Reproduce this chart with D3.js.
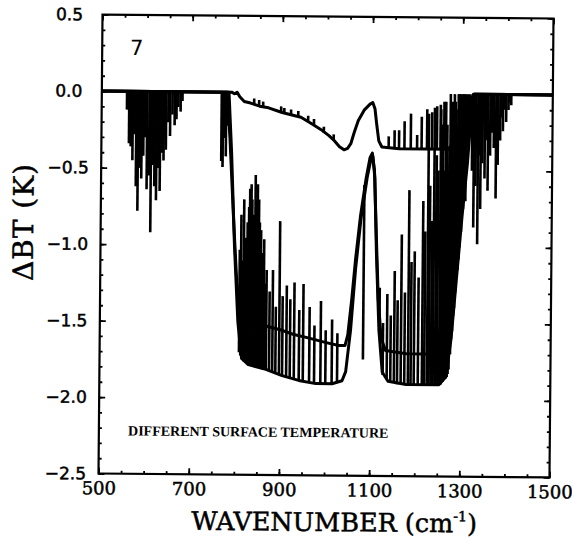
<!DOCTYPE html>
<html>
<head>
<meta charset="utf-8">
<script src="https://cdn.jsdelivr.net/npm/d3@7"></script>
<style>
  body { margin: 0; background: #fff; }
</style>
</head>
<body>
<svg id="chart" width="572" height="540"></svg>
<script>
// Brightness-temperature difference spectra (panel 7)

const xMajorTicks = [500, 700, 900, 1100, 1300, 1500];
const yMajorTicks = [0.5, 0.0, -0.5, -1.0, -1.5, -2.0, -2.5];

const panelLabel = "7";
const noteText = "DIFFERENT SURFACE TEMPERATURE";

// Envelopes, [wavenumber (cm-1), ΔBT (K)]
const curveSmall = [
  [500, 0], [788, 0], [794, -0.01], [800, 0.0], [806, -0.03], [816, -0.06], [830, -0.07],
  [850, -0.09], [870, -0.1], [900, -0.13], [942, -0.16], [965, -0.2], [987, -0.24],
  [1005, -0.28], [1016, -0.31], [1028, -0.35], [1038, -0.37], [1046, -0.36], [1053, -0.33],
  [1060, -0.26], [1069, -0.18], [1082, -0.11], [1095, -0.07], [1101, -0.06], [1106, -0.1],
  [1110, -0.2], [1115, -0.31], [1122, -0.35], [1160, -0.36], [1220, -0.36], [1268, -0.36],
  [1282, -0.32], [1294, -0.22], [1305, -0.12], [1316, -0.05], [1326, 0], [1500, 0]
];

const curveMid = [
  [500, 0], [778, 0], [785, -0.3], [794, -0.8], [803, -1.25], [812, -1.45], [825, -1.5],
  [860, -1.52], [900, -1.55], [930, -1.58], [960, -1.6], [1000, -1.63], [1030, -1.65],
  [1044, -1.65], [1050, -1.58], [1058, -1.35], [1066, -1.08], [1076, -0.8], [1088, -0.55],
  [1096, -0.42], [1101, -0.39], [1106, -0.5], [1111, -0.9], [1117, -1.35], [1124, -1.6],
  [1134, -1.68], [1180, -1.7], [1225, -1.7], [1242, -1.68], [1252, -1.6], [1263, -1.4],
  [1275, -1.1], [1286, -0.8], [1298, -0.5], [1309, -0.22], [1318, -0.06], [1326, 0], [1500, 0]
];

const curveLow = [
  [500, 0], [782, 0], [789, -0.4], [797, -1.0], [806, -1.5], [815, -1.74], [830, -1.78],
  [869, -1.81], [905, -1.85], [942, -1.88], [980, -1.9], [1016, -1.9], [1038, -1.88],
  [1046, -1.82], [1056, -1.55], [1066, -1.15], [1077, -0.82], [1090, -0.55], [1098, -0.43],
  [1102, -0.41], [1107, -0.55], [1112, -1.05], [1119, -1.55], [1127, -1.82], [1140, -1.88],
  [1180, -1.9], [1253, -1.9], [1268, -1.85], [1279, -1.6], [1290, -1.2], [1301, -0.8],
  [1312, -0.45], [1319, -0.15], [1324, 0], [1500, 0]
];

// Absorption lines dipping from zero, [wavenumber, ΔBT at line centre]
const zeroDips = [
  [556, -0.12], [561, -0.34], [565, -0.36], [569, -0.45], [573, -0.28], [577, -0.62],
  [581, -0.78], [585, -0.5], [589, -0.57], [593, -0.42], [597, -0.3], [601, -0.64],
  [606, -0.55], [610, -0.92], [614, -0.48], [618, -0.62], [622, -0.71], [626, -0.5],
  [630, -0.65], [634, -0.4], [638, -0.45], [643, -0.38], [648, -0.2], [652, -0.29],
  [657, -0.15], [662, -0.22], [666, -0.18], [670, -0.1], [675, -0.13], [679, -0.06],
  [766, -0.45], [769, -0.49], [772, -0.3], [776, -0.42], [779, -0.22],
  [1292, -0.3], [1296, -0.6], [1300, -0.2], [1304, -0.45], [1308, -0.7], [1312, -0.35],
  [1316, -0.25], [1322, -0.5], [1326, -0.87], [1330, -0.6], [1335, -0.98], [1338, -0.4],
  [1341, -0.75], [1345, -0.45], [1350, -0.55], [1353, -0.3], [1357, -0.63], [1362, -0.4],
  [1366, -0.25], [1370, -0.35], [1375, -0.68], [1379, -0.46], [1384, -0.3], [1387, -0.15],
  [1390, -0.24], [1394, -0.1], [1397, -0.18], [1402, -0.1], [1405, -0.05], [1408, -0.07]
];

// Lines standing out of the envelopes, [wavenumber, base ΔBT, tip ΔBT]
const riseLines = [
  [809, -1.7, -1.03], [812, -1.72, -0.8], [815, -1.74, -1.1], [818, -1.75, -0.7],
  [820, -1.76, -1.0], [823, -1.76, -0.95], [826, -1.77, -0.85], [829, -1.77, -0.75],
  [831, -1.78, -0.63], [834, -1.78, -0.6], [836, -1.78, -0.7], [839, -1.79, -0.8],
  [843, -1.79, -0.54], [846, -1.8, -0.7], [848, -1.8, -0.6], [851, -1.8, -0.7],
  [853, -1.8, -0.85], [856, -1.8, -0.9], [858, -1.8, -1.05], [861, -1.81, -1.1],
  [863, -1.81, -0.96], [866, -1.81, -1.25], [869, -1.81, -1.16],
  [876, -1.82, -1.3], [883, -1.83, -1.16], [890, -1.84, -1.4], [898, -1.84, -0.84],
  [905, -1.85, -1.33], [914, -1.86, -1.26], [922, -1.87, -1.35], [931, -1.87, -1.24],
  [942, -1.88, -1.42], [951, -1.89, -1.25], [965, -1.89, -1.4], [976, -1.9, -1.52],
  [990, -1.9, -1.36], [1001, -1.9, -1.55], [1015, -1.9, -1.48], [1027, -1.89, -1.57],
  [1084, -1.74, -0.6],
  [1120, -1.6, -1.27], [1128, -1.84, -1.5], [1137, -1.87, -1.31], [1145, -1.88, -1.45],
  [1153, -1.89, -1.16], [1160, -1.9, -1.35], [1168, -1.9, -0.92], [1176, -1.9, -1.3],
  [1184, -1.9, -0.63], [1190, -1.9, -1.1], [1197, -1.9, -1.03], [1206, -1.9, -1.2],
  [1215, -1.9, -0.7], [1220, -1.9, -0.9], [1226, -1.9, -0.13], [1230, -1.9, -0.6],
  [1235, -1.9, -0.83], [1239, -1.9, -0.09], [1244, -1.9, -0.4], [1248, -1.9, -0.5],
  [1253, -1.9, -0.1], [1256, -1.9, -0.2], [1258, -1.88, -0.3], [1261, -1.88, -0.5],
  [1264, -1.86, -0.05], [1267, -1.86, -0.2], [1270, -1.85, -0.6], [1272, -1.83, -0.35],
  [1274, -1.8, 0], [1277, -1.7, -0.1], [1279, -1.6, -0.05], [1281, -1.55, -0.3],
  [1283, -1.45, 0], [1285, -1.4, -0.05], [1287, -1.3, -0.1], [1290, -1.2, -0.2],
  [1292, -1.15, 0], [1294, -1.08, 0], [1296, -1.0, -0.05], [1299, -0.9, -0.1],
  [1303, -0.75, 0], [1307, -0.6, -0.05],
  [1137, -0.35, -0.28], [1150, -0.36, -0.24], [1160, -0.36, -0.24], [1172, -0.36, -0.18],
  [1186, -0.36, -0.13], [1200, -0.36, -0.27], [1210, -0.36, -0.15], [1222, -0.36, -0.1],
  [1233, -0.36, -0.12], [1244, -0.36, -0.08], [1252, -0.36, -0.07], [1260, -0.36, -0.05],
  [838, -0.08, -0.04], [849, -0.09, -0.05], [858, -0.09, -0.06], [898, -0.13, -0.09],
  [905, -0.13, -0.1], [920, -0.15, -0.11], [936, -0.16, -0.12], [958, -0.19, -0.15],
  [971, -0.21, -0.17], [993, -0.26, -0.22], [1015, -0.31, -0.27]
];

// ---- layout ----
const plot = { left: 100.5, top: 16.5, right: 551.5, bottom: 475.5 };
const x = d3.scaleLinear().domain([500, 1500]).range([plot.left, plot.right]);
const y = d3.scaleLinear().domain([-2.5, 0.5]).range([plot.bottom, plot.top]);

const svg = d3.select("#chart");
svg.append("rect").attr("width", 572).attr("height", 540).attr("fill", "#fff");

// the printed figure sits very slightly askew on the page
const root = svg.append("g").attr("transform", "rotate(0.5,326,246)");

const xMinor = d3.range(500, 1501, 50);
const yMinor = d3.range(-25, 6).map(d => d / 10);

function styleAxis(g) {
  g.select(".domain").remove();
  g.selectAll(".tick line").attr("stroke", "#000").attr("stroke-width", 1.8);
  g.selectAll(".tick text").attr("fill", "#000");
}

// minor ticks, all four sides, pointing inward
root.append("g").attr("transform", `translate(0,${plot.bottom})`)
  .call(d3.axisBottom(x).tickValues(xMinor).tickSize(-3).tickFormat("")).call(styleAxis);
root.append("g").attr("transform", `translate(0,${plot.top})`)
  .call(d3.axisTop(x).tickValues(xMinor).tickSize(-3).tickFormat("")).call(styleAxis);
root.append("g").attr("transform", `translate(${plot.left},0)`)
  .call(d3.axisLeft(y).tickValues(yMinor).tickSize(-3).tickFormat("")).call(styleAxis);
root.append("g").attr("transform", `translate(${plot.right},0)`)
  .call(d3.axisRight(y).tickValues(yMinor).tickSize(-3).tickFormat("")).call(styleAxis);

// major ticks with labels
const gx = root.append("g").attr("transform", `translate(0,${plot.bottom})`)
  .call(d3.axisBottom(x).tickValues(xMajorTicks).tickSize(-6).tickPadding(8).tickFormat(d3.format("d")))
  .call(styleAxis);
gx.attr("font-family", "'DejaVu Serif', serif").attr("font-size", 18);
gx.selectAll(".tick text").attr("stroke", "#000").attr("stroke-width", 0.5);

root.append("g").attr("transform", `translate(0,${plot.top})`)
  .call(d3.axisTop(x).tickValues(xMajorTicks).tickSize(-6).tickFormat("")).call(styleAxis);

const gy = root.append("g").attr("transform", `translate(${plot.left},0)`)
  .call(d3.axisLeft(y).tickValues(yMajorTicks).tickSize(-6).tickFormat(d3.format(".1f")))
  .call(styleAxis);
gy.attr("font-family", "'DejaVu Sans', sans-serif").attr("font-size", 17);
gy.selectAll(".tick text").attr("text-anchor", "middle").attr("x", -33)
  .attr("stroke", "#000").attr("stroke-width", 0.5);

root.append("g").attr("transform", `translate(${plot.right},0)`)
  .call(d3.axisRight(y).tickValues(yMajorTicks).tickSize(-6).tickFormat("")).call(styleAxis);

// frame
root.append("rect")
  .attr("x", plot.left).attr("y", plot.top)
  .attr("width", plot.right - plot.left).attr("height", plot.bottom - plot.top)
  .attr("fill", "none").attr("stroke", "#000").attr("stroke-width", 2.2);

// ---- spectra ----
const line = d3.line().x(d => x(d[0])).y(d => y(d[1]));

root.append("g").attr("stroke", "#000").attr("stroke-width", 2.6)
  .selectAll("line").data(zeroDips).join("line")
  .attr("x1", d => x(d[0])).attr("x2", d => x(d[0]))
  .attr("y1", y(0)).attr("y2", d => y(d[1]));

root.append("g").attr("stroke", "#000").attr("stroke-width", 2.6)
  .selectAll("line").data(riseLines).join("line")
  .attr("x1", d => x(d[0])).attr("x2", d => x(d[0]))
  .attr("y1", d => y(d[1])).attr("y2", d => y(d[2]));

[curveSmall, curveMid, curveLow].forEach(c => {
  root.append("path").datum(c)
    .attr("d", line)
    .attr("fill", "none").attr("stroke", "#000")
    .attr("stroke-width", 3).attr("stroke-linejoin", "round");
});

// ---- text ----
root.append("text")
  .attr("x", x(562)).attr("y", y(0.237))
  .attr("font-family", "'DejaVu Sans', sans-serif").attr("font-size", 21)
  .attr("fill", "#000").text(panelLabel);

root.append("text")
  .attr("x", 129.7).attr("y", 437.2)
  .attr("font-family", "'Liberation Serif', serif").attr("font-weight", "bold")
  .attr("font-size", 14).attr("fill", "#000").text(noteText);

// axis titles
const xt = root.append("text")
  .attr("x", 336.5).attr("y", 531).attr("text-anchor", "middle")
  .attr("font-family", "'DejaVu Serif', serif").attr("font-size", 25.5)
  .attr("fill", "#000").attr("stroke", "#000").attr("stroke-width", 0.5);
xt.append("tspan").text("WAVENUMBER (cm");
xt.append("tspan").attr("font-size", 14).attr("dy", -11).text("-1");
xt.append("tspan").attr("dy", 11).text(")");

root.append("text")
  .attr("transform", "translate(33,224.6) rotate(-90)")
  .attr("text-anchor", "middle")
  .attr("font-family", "'DejaVu Serif', serif").attr("font-size", 28)
  .attr("letter-spacing", 1).attr("fill", "#000").attr("stroke", "#000").attr("stroke-width", 0.5)
  .text("ΔBT (K)");
</script>
</body>
</html>
